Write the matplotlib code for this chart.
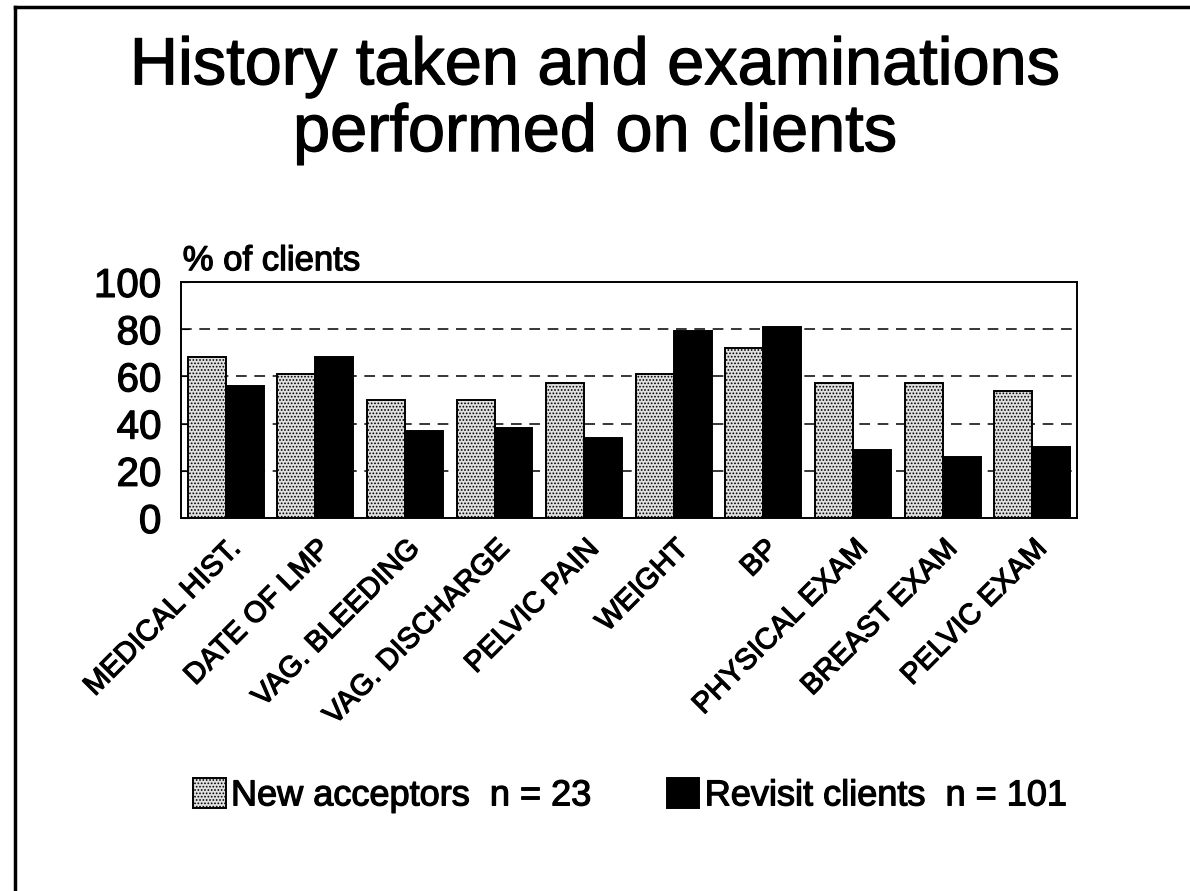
import numpy as np
import matplotlib
matplotlib.use("Agg")
import matplotlib.pyplot as plt
import matplotlib.patheffects as pe
from matplotlib.lines import Line2D

plt.rcParams['font.family'] = ['Liberation Sans', 'DejaVu Sans']
plt.rcParams['hatch.color'] = '#555555'
plt.rcParams['hatch.linewidth'] = 0.8

categories = ["MEDICAL HIST.", "DATE OF LMP", "VAG. BLEEDING", "VAG. DISCHARGE",
              "PELVIC PAIN", "WEIGHT", "BP", "PHYSICAL EXAM", "BREAST EXAM", "PELVIC EXAM"]
new_acceptors = [68, 61, 50, 50, 57, 61, 72, 57, 57, 54]
revisit_clients = [56, 68, 37, 38, 34, 79, 81, 29, 26, 30]
yticks = [0, 20, 40, 60, 80, 100]

# slight stroke so the text looks as heavy as the scanned original
heavy = [pe.withStroke(linewidth=0.9, foreground='black')]

fig = plt.figure(figsize=(11.9, 8.91), dpi=100)
ax = fig.add_axes([0.152, 0.4186, 0.753, 0.265])

x = np.arange(len(categories))
w = 0.424
ax.bar(x - w/2, new_acceptors, w, facecolor='#e0e0e0', edgecolor='black',
       hatch='.....', linewidth=1.4, label='New acceptors  n = 23', zorder=3)
ax.bar(x + w/2, revisit_clients, w, facecolor='black', edgecolor='black',
       linewidth=1.4, label='Revisit clients  n = 101', zorder=3)

ax.set_xlim(-0.5, len(categories) - 0.5)
ax.set_ylim(0, 100)
ax.set_yticks(yticks)
ax.set_yticklabels([str(v) for v in yticks], fontsize=29)
for v in yticks[1:-1]:
    ax.axhline(v, color='black', linestyle=(0, (7, 5)), linewidth=1.1, zorder=1)
ax.tick_params(axis='y', direction='in', length=6, pad=14)
ax.set_xticks(x)
ax.set_xticklabels(categories, rotation=45, ha='right', rotation_mode='anchor', fontsize=21)
ax.tick_params(axis='x', length=0, pad=12)
for s in ax.spines.values():
    s.set_linewidth(1.4)
for t in ax.get_xticklabels() + ax.get_yticklabels():
    t.set_path_effects(heavy)

ax.text(0.002, 1.02, "% of clients", transform=ax.transAxes, fontsize=25, ha='left', va='bottom',
        path_effects=heavy)

fig.text(0.5, 0.887, "History taken and examinations\nperformed on clients", ha='center', va='center',
         fontsize=48, linespacing=1.1, path_effects=heavy)

leg = fig.legend(loc='center', bbox_to_anchor=(0.529, 0.107), ncol=2, frameon=False, fontsize=26,
                 handlelength=0.9, handleheight=0.9, handletextpad=0.15, columnspacing=2.1)
for t in leg.get_texts():
    t.set_path_effects(heavy)

fig.add_artist(Line2D([0.0126, 1.0], [0.992, 0.992], color='black', linewidth=2.5))
fig.add_artist(Line2D([0.0126, 0.0126], [0.0, 0.992], color='black', linewidth=2.5))

fig.savefig("out.png", dpi=100)
